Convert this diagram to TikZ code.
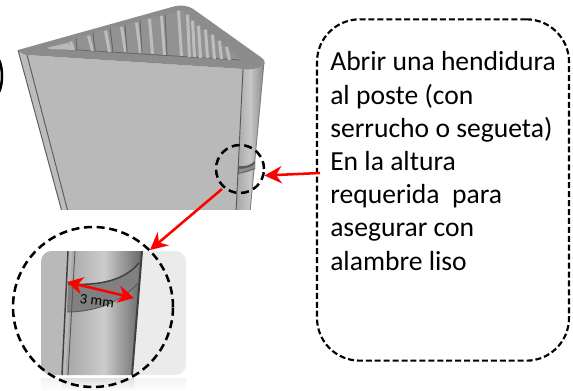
\documentclass[tikz,border=0pt]{standalone}
\usepackage{fontspec}
\setmainfont{Carlito}
\usetikzlibrary{arrows.meta,shapes.geometric}
\definecolor{topgray}{HTML}{8C8C8C}
\definecolor{frontgray}{HTML}{B9B9B9}
\definecolor{holegray}{HTML}{929292}
\definecolor{ribgray}{HTML}{BDBDBD}
\definecolor{paneltint}{HTML}{EBEBEB}
\definecolor{edgegray}{HTML}{5A5A5A}
\tikzset{
  redarrow/.style={draw=red,line width=1.9pt,-{Stealth[length=13pt,width=13pt]}},
  redboth/.style={draw=red,line width=1.9pt,{Stealth[length=12pt,width=13pt]}-{Stealth[length=12pt,width=13pt]}},
  dashring/.style={circle,draw=black,line width=1.9pt,dash pattern=on 6pt off 3.5pt,inner sep=0pt},
  calloutbox/.style={draw=black,line width=1.6pt,dash pattern=on 4.5pt off 2.2pt,rounded corners=32pt,inner sep=0pt},
  edgeline/.style={draw=edgegray,line width=0.7pt},
  edgethick/.style={draw=black!75,line width=1.1pt}
}
\begin{document}
\begin{tikzpicture}[x=0.75pt,y=-0.75pt]
\useasboundingbox (0,0) rectangle (573,391);
\fill[white] (0,0) rectangle (573,391);
% post body
\begin{scope}
\clip (0,0) rectangle (573,210);
\fill[frontgray] (27,55) -- (243,69) -- (236,212) -- (68,212) -- cycle;
\fill[frontgray!95!white] (18,50) -- (27,55) -- (68,212) -- (62,212) -- cycle;
\shade[left color=frontgray!90!black,right color=frontgray!75!black,middle color=frontgray!80!white]
  (243,69) -- (264,62) -- (250,212) -- (236,212) -- cycle;
\draw[edgeline] (18,50) -- (62,212);
\draw[edgeline] (27,55) -- (68,212);
\draw[edgeline] (243,69) -- (236,212);
\draw[edgeline,draw=gray] (264,62) -- (250,212);
\fill[edgegray] (238,166) .. controls (245,167) and (251,165) .. (255,161) -- (255,169) .. controls (250,171) and (244,173) .. (238,174) -- cycle;
\fill[topgray] (239,169) .. controls (245,169) and (251,167) .. (255,164) -- (255,168) .. controls (250,170) and (244,172) .. (239,173) -- cycle;
\end{scope}
% top face
\fill[topgray] (18,50) -- (172,7) .. controls (182,4) and (190,6) .. (196,11) -- (262,58) .. controls (266,61) and (265,65) .. (262,66)
  .. controls (256,69) and (250,70) .. (243,69) -- (27,55) .. controls (22,54) and (19,52) .. (18,50) -- cycle;
% hole
\fill[holegray] (45,48) -- (68,42) -- (77,37) -- (93,33) -- (110,28) -- (125,25) -- (140,20) -- (165,15) -- (182,10) -- (197,25) -- (240,59)
  -- (197,58) -- (167,55) -- (137,53) -- (110,52) -- (93,51) -- (73,50) -- (50,49) -- cycle;
\draw[black!60,line width=0.6pt] (45,48) -- (240,60);
\fill[frontgray] (46,48) -- (68,43) -- (73,50) -- (50,49) -- cycle;
\foreach \xa/\ya/\xb/\yb in {69/42/72/50,87/36/91/51,104/31/108/52,120/27/124/52,135/23/139/53,148/19/151/54,160/16/163/55,177/11/180/56,186/15/188/57,191/21/193/57,197/26/199/58,204/30/206/58,211/35/213/59,218/41/220/59,225/47/228/60}
  \fill[ribgray] (\xa,\ya) -- (\xa+3,\ya-0.5) -- (\xb+3,\yb) -- (\xb,\yb) -- cycle;
\foreach \xa/\ya/\xb/\yb in {76/38/77/50,93/33/95/51,110/28/113/52,125/25/127/52,140/20/142/53,165/15/167/55}
  \draw[black!60,line width=0.7pt] (\xa,\ya) -- (\xb,\yb);
% left partial ring
\draw[black,line width=1.9pt] (-1,60) .. controls (3,68) and (3,84) .. (-1,92);
% zoom panel
\shade[top color=paneltint!60!white,bottom color=white] (41,378) rectangle (186,391);
\shade[top color=frontgray!45!white,bottom color=white] (62,378) rectangle (134,391);
\begin{scope}
\clip[rounded corners=8pt] (41,251) rectangle (186,375);
\fill[paneltint] (41,251) rectangle (186,375);
\fill[frontgray] (41,251) -- (76,251) -- (68,375) -- (41,375) -- cycle;
\shade[left color=frontgray!90!black,right color=black!60,middle color=black!20] (72,251) -- (142,251) -- (132,375) -- (66,375) -- cycle;
\fill[black!50] (68,284) .. controls (100,286) and (125,280) .. (139,263) -- (138,283) .. controls (122,302) and (95,312) .. (67,312) -- cycle;
\draw[edgethick] (68,284) .. controls (100,286) and (125,280) .. (139,263);
\draw[edgeline] (138,283) .. controls (122,302) and (95,312) .. (67,312);
\draw[edgethick] (68,251) -- (62,375);
\draw[edgeline] (75,251) -- (68,375);
\draw[edgethick,line width=1.5pt] (142,251) -- (132,375);
\end{scope}
% callout
\node[calloutbox,minimum width=189pt,minimum height=256pt] (box) at (443,190) {};
\node[anchor=north west,align=left,inner sep=0pt,font=\fontsize{20.7}{24.9}\selectfont] (txt) at (330,51.5)
 {Abrir una hendidura\\al poste (con\\serrucho o segueta)\\En la altura\\requerida\ \ para\\asegurar con\\alambre liso};
% rings
\node[dashring,minimum size=36pt] (small) at (240,169) {};
\node[dashring,minimum size=120pt] (big) at (93,307) {};
% arrows
\coordinate (boxport) at (320,173);
\coordinate (bigport) at (150,250);
\coordinate (smallport) at (222,189);
\draw[redarrow] (boxport) -- (small.345);
\draw[redarrow] (smallport) -- (bigport);
% dimension
\coordinate (dimL) at (67,282);
\coordinate (dimR) at (134,298);
\node[rotate=-7,font=\fontsize{11}{13}\selectfont,inner sep=0pt,text=black] (dimtxt) at (97,301) {3 mm};
\draw[redboth] (dimL) -- (dimR);
\end{tikzpicture}
\end{document}
